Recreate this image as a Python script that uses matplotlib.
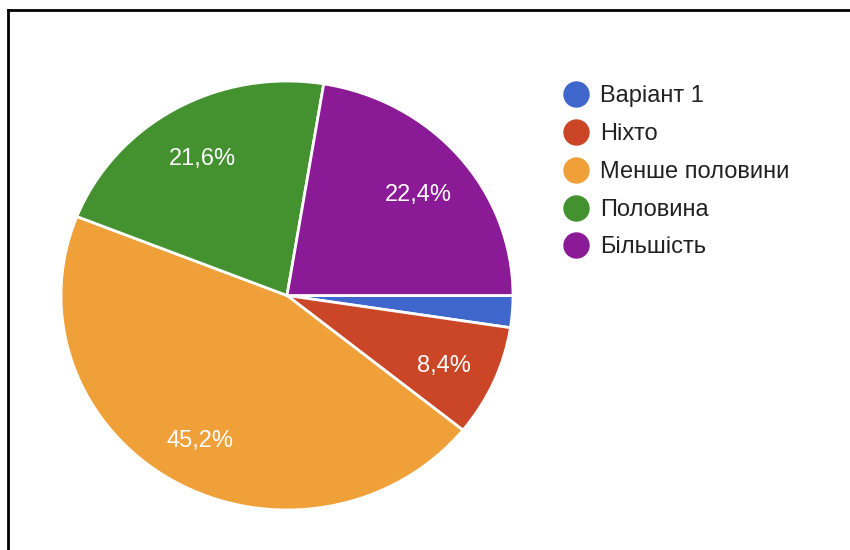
import matplotlib
matplotlib.use("Agg")
import matplotlib.pyplot as plt
from matplotlib.lines import Line2D
from matplotlib.transforms import offset_copy

plt.rcParams['font.family'] = ['Liberation Sans', 'DejaVu Sans']

labels = ["Варіант 1", "Ніхто", "Менше половини", "Половина", "Більшість"]
shares = [2.4, 8.4, 45.2, 21.6, 22.4]
colors = ["#3e66cb", "#cb4627", "#f0a038", "#43922f", "#8b1a97"]

W, H = 850, 550
fig = plt.figure(figsize=(W / 100, H / 100), dpi=100)

# pie sits in its own axes, slightly wider than tall
cx, cy, rx, ry = 287, 295.5, 226, 214.5
ax = fig.add_axes([(cx - rx) / W, (H - cy - ry) / H, 2 * rx / W, 2 * ry / H])


def pct(p):
    if p < 5:
        return ""
    return f"{p:.1f}%".replace(".", ",")


wedges, texts, autotexts = ax.pie(
    shares, colors=colors, startangle=0, counterclock=False,
    autopct=pct, pctdistance=0.76,
    wedgeprops=dict(edgecolor="white", linewidth=2),
    textprops=dict(color="white", fontsize=17),
)
ax.set_aspect("auto")
ax.set_xlim(-1, 1)
ax.set_ylim(-1, 1)
ax.axis("off")

# nudge the percentages down a few pixels
for t in autotexts:
    t.set_transform(offset_copy(ax.transData, fig=fig, y=-5, units="dots"))

# legend on the right
leg_y = [94, 132, 170, 208, 245]
for lab, col, y in zip(labels, colors, leg_y):
    fig.add_artist(Line2D([576 / W], [1 - y / H], marker="o", markersize=18,
                          color=col, linestyle="none", transform=fig.transFigure))
    fig.text(600 / W, 1 - (y + 2) / H, lab, fontsize=17, color="#222222",
             va="center", ha="left")

# frame lines along the left and top
fig.add_artist(Line2D([8 / W, 8 / W], [0, 1 - 10 / H], color="black", linewidth=2,
                      transform=fig.transFigure))
fig.add_artist(Line2D([8 / W, 1], [1 - 10 / H, 1 - 10 / H], color="black", linewidth=2,
                      transform=fig.transFigure))

fig.savefig("out.png", dpi=100, facecolor="white")
